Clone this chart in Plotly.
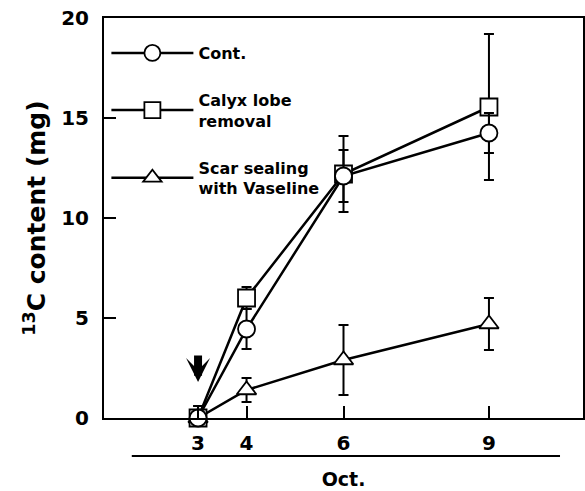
import plotly.graph_objects as go

days = [3, 4, 6, 9]
tick_vals = [3, 4, 6, 9]
tick_text = ["3", "4", "6", "9"]

cont = [0.0, 4.45, 12.1, 14.25]
cont_err = [0.6, 1.0, 1.3, 1.0]
calyx = [0.0, 6.0, 12.2, 15.55]
calyx_err = [0.4, 0.55, 1.9, 3.65]
scar = [0.0, 1.4, 2.9, 4.7]
scar_err = [0.3, 0.6, 1.75, 1.3]

names = ["Cont.", "Calyx lobe<br>removal", "Scar sealing<br>with Vaseline"]

FONT = "DejaVu Sans"

def trace(y, err, name, symbol, rank, group):
    return go.Scatter(
        x=days, y=y, name=name, mode="lines+markers",
        line=dict(color="black", width=2.5),
        marker=dict(symbol=symbol, size=17, color="white",
                    line=dict(color="black", width=1.8)),
        error_y=dict(type="data", array=err, visible=True, color="black",
                     thickness=2, width=5),
        cliponaxis=False, legendrank=rank, legendgroup=group,
    )

fig = go.Figure()
fig.add_trace(trace(scar, scar_err, names[2], "triangle-up", 3, "c"))
fig.add_trace(trace(calyx, calyx_err, names[1], "square", 2, "b"))
fig.add_trace(trace(cont, cont_err, names[0], "circle", 1, "a"))

fig.update_layout(
    width=585, height=491,
    margin=dict(l=104, r=2, t=18, b=73, autoexpand=False),
    paper_bgcolor="white", plot_bgcolor="white",
    font=dict(family=FONT, color="black"),
    showlegend=True,
    legend=dict(x=0.005, y=0.955, xanchor="left", yanchor="top",
                bgcolor="rgba(0,0,0,0)", traceorder="grouped",
                tracegroupgap=23, itemwidth=82,
                font=dict(family=FONT, size=16, weight="bold", color="black")),
    xaxis=dict(range=[1.06, 10.94], tickvals=tick_vals, ticktext=tick_text,
               ticks="inside", ticklen=12, tickwidth=1.5, tickcolor="black",
               showline=True, linecolor="black", linewidth=2, mirror=True,
               showgrid=False, zeroline=False, ticklabelstandoff=6,
               tickfont=dict(family=FONT, size=20, weight="bold"),
               title=dict(text="Oct.", standoff=19,
                          font=dict(family=FONT, size=19, weight="bold"))),
    yaxis=dict(range=[0, 20], tickvals=[0, 5, 10, 15, 20],
               ticks="inside", ticklen=12, tickwidth=1.5, tickcolor="black",
               showline=True, linecolor="black", linewidth=2, mirror=True,
               showgrid=False, zeroline=False, ticklabelstandoff=9,
               tickfont=dict(family=FONT, size=20, weight="bold"),
               title=dict(text="<sup>13</sup>C content (mg)", standoff=8,
                          font=dict(family=FONT, size=25, weight="bold"))),
    shapes=[dict(type="line", xref="paper", yref="paper",
                 x0=0.058, x1=0.952, y0=-0.095, y1=-0.095,
                 line=dict(color="black", width=2))],
    annotations=[dict(x=3, y=1.8, ax=3, ay=3.2, xref="x", yref="y",
                      axref="x", ayref="y", text="", showarrow=True,
                      arrowhead=3, arrowsize=0.5, arrowwidth=8,
                      arrowcolor="black", standoff=0)],
)

fig.write_html(
    "out.html",
    config={"displayModeBar": False},
    post_script="document.body.style.margin='0';document.body.style.overflow='hidden';",
)
